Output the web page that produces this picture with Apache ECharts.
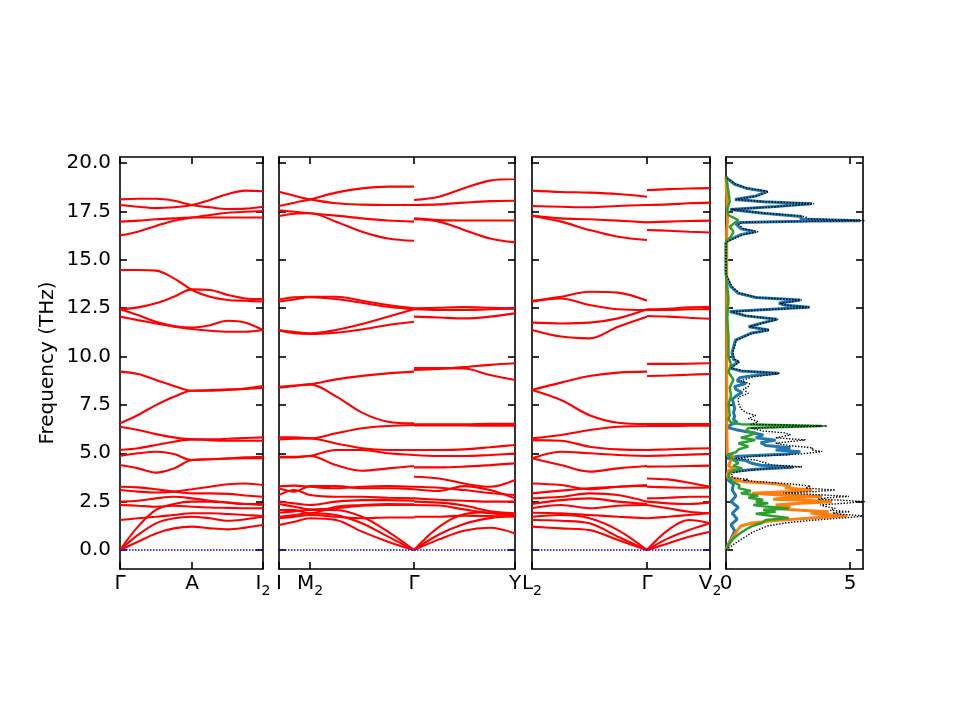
<!DOCTYPE html>
<html>
<head>
<meta charset="utf-8">
<script src="https://cdn.jsdelivr.net/npm/echarts@6.0.0/dist/echarts.min.js"></script>
<style>
  html, body { margin: 0; padding: 0; background: #fff; }
  #main { width: 960px; height: 720px; }
</style>
</head>
<body>
<div id="main"></div>
<script>
// ---- data ----
var yTicks = [0, 2.5, 5, 7.5, 10, 12.5, 15, 17.5, 20];
var freqMin = -0.98, freqMax = 20.31;

// panel 1: Γ - A - I2
var p1Kpts = [0, 0.72, 1.43];
var p1Labels = ['Γ', 'A', 'I_2'];
var p1X = [0, 0.18, 0.36, 0.54, 0.72, 0.90, 1.08, 1.255, 1.43];
var p1Bands = [
    [18.12, 18.15, 18.15, 18.05, 17.83, 17.71, 17.62, 17.64, 17.74],
    [17.83, 17.74, 17.67, 17.71, 17.83, 18.09, 18.40, 18.57, 18.54],
    [16.97, 17.02, 17.09, 17.14, 17.18, 17.18, 17.18, 17.18, 17.18],
    [16.26, 16.45, 16.75, 17.02, 17.18, 17.31, 17.43, 17.48, 17.52],
    [14.47, 14.47, 14.44, 14.04, 13.44, 13.09, 12.92, 12.88, 12.84],
    [12.44, 12.54, 12.75, 13.09, 13.47, 13.44, 13.18, 13.00, 12.97],
    [12.44, 12.14, 11.80, 11.58, 11.50, 11.62, 11.85, 11.75, 11.37],
    [12.06, 11.88, 11.71, 11.54, 11.42, 11.33, 11.28, 11.28, 11.37],
    [9.22, 9.10, 8.79, 8.48, 8.23, 8.27, 8.30, 8.33, 8.39],
    [6.55, 6.98, 7.49, 7.92, 8.23, 8.23, 8.27, 8.35, 8.47],
    [6.37, 6.20, 5.99, 5.82, 5.72, 5.72, 5.75, 5.79, 5.82],
    [5.17, 5.26, 5.43, 5.60, 5.72, 5.68, 5.65, 5.65, 5.65],
    [4.86, 5.00, 5.08, 4.96, 4.65, 4.69, 4.74, 4.79, 4.82],
    [4.39, 4.22, 4.00, 4.22, 4.65, 4.69, 4.72, 4.74, 4.74],
    [3.27, 3.24, 3.14, 3.02, 2.93, 2.93, 2.90, 2.82, 2.75],
    [3.10, 3.02, 2.97, 3.02, 3.14, 3.27, 3.40, 3.44, 3.36],
    [2.50, 2.55, 2.67, 2.75, 2.67, 2.55, 2.45, 2.38, 2.38],
    [2.33, 2.29, 2.24, 2.29, 2.24, 2.20, 2.18, 2.16, 2.16],
    [1.55, 1.64, 1.72, 1.81, 1.90, 1.90, 1.86, 1.81, 1.76],
    [0, 1.21, 2.07, 2.38, 2.50, 2.50, 2.45, 2.38, 2.33],
    [0, 0.78, 1.38, 1.64, 1.72, 1.64, 1.51, 1.59, 1.72],
    [0, 0.43, 0.86, 1.12, 1.21, 1.12, 1.07, 1.16, 1.29]
];

// panel 2: I - M2 - Γ | Γ - Y
var p2Kpts = [0, 0.31, 1.35, 2.36];
var p2Labels = ['I', 'M_2', 'Γ', 'Y'];
var p2aX = [0, 0.155, 0.31, 0.57, 0.83, 1.09, 1.35];
var p2aBands = [
    [18.52, 18.31, 18.12, 17.92, 17.85, 17.83, 17.83],
    [17.78, 17.95, 18.12, 18.47, 18.69, 18.78, 18.78],
    [17.55, 17.48, 17.40, 17.28, 17.14, 17.03, 16.97],
    [17.26, 17.38, 17.40, 16.97, 16.45, 16.10, 15.98],
    [12.95, 13.06, 13.09, 13.09, 12.88, 12.66, 12.49],
    [12.84, 12.95, 13.06, 12.97, 12.78, 12.57, 12.44],
    [11.37, 11.27, 11.20, 11.37, 11.68, 12.06, 12.44],
    [11.34, 11.20, 11.16, 11.23, 11.40, 11.63, 11.80],
    [8.44, 8.50, 8.56, 8.82, 9.00, 9.13, 9.22],
    [8.39, 8.48, 8.56, 7.94, 7.10, 6.63, 6.55],
    [5.82, 5.82, 5.77, 6.03, 6.29, 6.41, 6.46],
    [5.72, 5.75, 5.77, 5.51, 5.26, 5.17, 5.17],
    [4.82, 4.82, 4.86, 5.17, 5.17, 5.00, 4.91],
    [4.79, 4.79, 4.86, 4.39, 4.10, 4.22, 4.34],
    [3.30, 3.33, 3.27, 3.19, 3.27, 3.30, 3.27],
    [3.19, 3.02, 3.30, 3.30, 3.19, 3.19, 3.14],
    [2.84, 3.10, 2.84, 2.75, 2.75, 2.70, 2.67],
    [2.50, 2.41, 2.33, 2.50, 2.58, 2.58, 2.55],
    [2.38, 2.24, 2.10, 2.16, 2.29, 2.33, 2.33],
    [2.07, 2.07, 1.90, 2.24, 2.33, 2.38, 2.36],
    [1.64, 1.72, 1.81, 1.72, 1.64, 1.68, 1.68],
    [1.29, 1.46, 1.64, 1.55, 0.95, 0.43, 0],
    [1.72, 1.81, 1.90, 1.81, 1.38, 0.69, 0],
    [1.93, 2.00, 2.07, 2.07, 1.72, 0.95, 0]
];
var p2bX = [1.35, 1.60, 1.85, 2.11, 2.36];
var p2bBands = [
    [18.09, 18.26, 18.70, 19.09, 19.17],
    [17.83, 17.86, 17.95, 18.03, 18.05],
    [17.14, 17.05, 17.03, 17.03, 17.03],
    [17.09, 16.97, 16.54, 16.10, 15.90],
    [12.49, 12.52, 12.55, 12.52, 12.49],
    [12.44, 12.40, 12.40, 12.44, 12.47],
    [12.06, 12.02, 11.97, 12.06, 12.23],
    [9.30, 9.36, 9.45, 9.57, 9.65],
    [9.40, 9.40, 9.38, 9.05, 8.79],
    [6.50, 6.50, 6.50, 6.52, 6.52],
    [6.44, 6.44, 6.44, 6.42, 6.42],
    [5.17, 5.17, 5.20, 5.31, 5.43],
    [4.91, 4.86, 4.86, 4.91, 4.98],
    [4.27, 4.27, 4.31, 4.39, 4.48],
    [3.79, 3.70, 3.44, 3.27, 3.62],
    [3.27, 3.22, 3.10, 2.95, 2.84],
    [3.14, 3.05, 3.30, 3.10, 2.67],
    [2.67, 2.60, 2.55, 2.50, 2.50],
    [2.50, 2.45, 2.30, 2.00, 1.90],
    [2.33, 2.30, 2.10, 1.90, 1.81],
    [1.72, 1.72, 1.78, 1.75, 1.72],
    [0, 1.20, 1.85, 1.95, 1.85],
    [0, 0.80, 1.35, 1.65, 1.78],
    [0, 0.55, 1.00, 1.15, 0.86]
];

// panel 3: L2 - Γ | Γ - V2
var p3Kpts = [0, 1.15, 1.78];
var p3Labels = ['L_2', 'Γ', 'V_2'];
var p3aX = [0, 0.29, 0.575, 0.86, 1.15];
var p3aBands = [
    [18.57, 18.50, 18.47, 18.40, 18.26],
    [17.78, 17.74, 17.71, 17.78, 17.83],
    [17.29, 17.14, 17.09, 17.02, 16.93],
    [17.26, 16.97, 16.54, 16.19, 16.02],
    [12.88, 13.09, 13.35, 13.30, 12.88],
    [12.83, 13.00, 12.66, 12.44, 12.40],
    [11.75, 11.71, 11.75, 11.97, 12.44],
    [11.37, 11.03, 10.94, 11.54, 12.06],
    [8.27, 8.65, 8.99, 9.17, 9.22],
    [8.27, 7.75, 6.97, 6.58, 6.51],
    [5.77, 5.94, 6.20, 6.37, 6.41],
    [5.68, 5.65, 5.34, 5.20, 5.17],
    [4.74, 5.08, 5.00, 4.91, 4.86],
    [4.74, 4.39, 4.05, 4.22, 4.34],
    [3.44, 3.36, 3.14, 3.27, 3.31],
    [2.93, 3.07, 3.19, 3.27, 3.36],
    [2.67, 2.75, 2.93, 2.84, 2.50],
    [2.38, 2.58, 2.67, 2.50, 2.38],
    [2.16, 2.33, 2.16, 2.29, 2.33],
    [1.93, 1.90, 1.81, 1.72, 1.64],
    [1.72, 1.81, 1.64, 1.03, 0],
    [1.55, 1.51, 1.38, 0.69, 0],
    [1.21, 1.12, 1.03, 0.52, 0]
];
var p3bX = [1.15, 1.36, 1.57, 1.78];
var p3bBands = [
    [18.60, 18.65, 18.68, 18.70],
    [17.83, 17.86, 17.92, 17.95],
    [16.93, 16.97, 17.00, 17.02],
    [16.54, 16.50, 16.45, 16.41],
    [12.44, 12.47, 12.54, 12.57],
    [12.40, 12.40, 12.44, 12.44],
    [12.09, 12.06, 12.00, 11.95],
    [9.62, 9.62, 9.63, 9.65],
    [8.99, 9.02, 9.06, 9.10],
    [6.51, 6.51, 6.51, 6.51],
    [6.41, 6.41, 6.42, 6.42],
    [5.17, 5.20, 5.24, 5.26],
    [4.86, 4.89, 4.93, 4.96],
    [4.31, 4.32, 4.34, 4.36],
    [3.70, 3.65, 3.48, 3.27],
    [3.27, 3.24, 3.22, 3.24],
    [2.67, 2.70, 2.75, 2.75],
    [2.50, 2.41, 2.38, 2.45],
    [2.33, 2.16, 1.98, 1.90],
    [1.64, 1.72, 1.81, 1.90],
    [0, 1.03, 1.55, 1.38],
    [0, 0.60, 1.03, 1.38],
    [0, 0.34, 0.69, 0.95]
];

// DOS panel: [frequency, dos]
var dosTicks = [0, 5];
var dosMax = 5.52;
var dosBlue = [
    [0,0],[0.3,0.1],[0.7,0.25],[1.0,0.35],[1.3,0.2],[1.6,0.45],[1.9,0.25],[2.2,0.5],[2.5,0.2],[2.8,0.4],
    [3.1,0.25],[3.4,0.3],[3.6,0.1],[3.9,0.05],[4.05,0.15],[4.18,1.2],[4.28,2.7],[4.38,1.4],[4.5,1.0],[4.62,0.8],
    [4.74,0.05],[4.85,0.5],[4.96,2.5],[5.08,3.0],[5.17,2.0],[5.28,2.6],[5.4,1.6],[5.55,1.4],[5.68,2.0],[5.8,1.2],
    [5.95,1.5],[6.1,0.9],[6.22,0.4],[6.32,0.1],[6.45,0.15],[6.6,0.45],[6.75,0.3],[6.9,0.35],[7.1,0.3],[7.3,0.35],
    [7.6,0.3],[7.8,0.25],[8.0,0.45],[8.14,0.65],[8.3,0.4],[8.45,0.35],[8.6,0.8],[8.75,0.45],[8.9,0.55],[9.0,1.0],
    [9.13,2.1],[9.25,0.6],[9.4,0.17],[9.55,0.3],[9.73,0.5],[9.85,0.3],[10.2,0.24],[10.85,0.38],[11.2,1.0],[11.37,1.72],
    [11.54,0.91],[11.75,1.5],[11.92,2.06],[12.1,0.8],[12.32,0.15],[12.45,2.0],[12.54,3.36],[12.65,2.4],[12.75,2.13],[12.92,3.0],
    [13.05,1.2],[13.27,0.5],[13.6,0.2],[14.12,0.02],[14.3,0],[15.9,0],[16.0,0.1],[16.3,0.6],[16.45,1.17],[16.6,0.6],
    [16.85,0.4],[16.93,0.56],[17.0,3.5],[17.02,5.4],[17.1,3.0],[17.23,3.05],[17.4,1.5],[17.6,0.16],[17.75,2.0],[17.9,3.45],
    [18.0,1.5],[18.12,0.36],[18.3,1.2],[18.52,1.64],[18.7,0.8],[18.9,0.35],[19.2,0.05],[19.3,0]
];
var dosOrange = [
    [0,0],[0.3,0.1],[0.6,0.25],[0.9,0.4],[1.1,0.5],[1.24,0.6],[1.4,1.05],[1.52,2.0],[1.62,3.0],[1.72,4.2],
    [1.77,4.88],[1.85,3.8],[1.92,3.4],[1.98,4.14],[2.05,3.0],[2.15,2.0],[2.25,2.6],[2.33,2.0],[2.42,3.0],[2.5,4.27],
    [2.58,3.0],[2.63,1.9],[2.7,2.5],[2.77,3.87],[2.85,2.2],[2.94,1.05],[3.02,2.6],[3.1,3.47],[3.2,2.4],[3.3,2.6],
    [3.42,2.0],[3.53,0.8],[3.6,0.3],[3.65,0.6],[3.72,0.1],[3.9,0.05],[4.1,0.1],[4.22,0.35],[4.35,0.1],[4.5,0.15],
    [4.65,0.2],[4.83,0.3],[4.95,0.05],[6.5,0.03],[16.5,0.03],[17.0,0.06],[18.0,0.04],[19.3,0]
];
var dosGreen = [
    [0,0],[0.3,0.12],[0.6,0.3],[0.9,0.6],[1.1,0.85],[1.24,1.05],[1.4,1.45],[1.55,1.6],[1.66,2.53],[1.77,1.8],
    [1.88,1.2],[1.98,2.0],[2.08,1.5],[2.15,2.53],[2.25,1.6],[2.33,1.1],[2.42,1.7],[2.5,1.2],[2.6,1.5],[2.7,0.9],
    [2.8,1.3],[2.94,0.6],[3.05,1.0],[3.2,0.5],[3.35,0.55],[3.5,0.3],[3.65,0.2],[3.8,0.1],[4.0,0.15],[4.15,0.4],
    [4.22,0.65],[4.35,0.3],[4.5,0.5],[4.65,0.3],[4.8,0.2],[4.92,0.05],[5.05,0.4],[5.2,0.5],[5.35,0.9],[5.52,0.5],
    [5.69,1.18],[5.8,0.6],[5.9,0.9],[6.05,1.2],[6.15,0.8],[6.3,0.9],[6.41,3.87],[6.5,0.6],[6.6,0.2],[6.75,0.1],
    [7.0,0.15],[7.5,0.1],[8.0,0.2],[8.4,0.15],[8.8,0.3],[9.2,0.1],[9.6,0.2],[10.0,0.1],[11.0,0.1],[12.0,0.05],
    [13.0,0.1],[14.2,0],[15.9,0],[16.2,0.2],[16.45,0.3],[16.7,0.15],[17.05,0.5],[17.3,0.1],[17.6,0.05],[18.0,0.15],
    [18.5,0.1],[19.2,0.02],[19.3,0]
];
var dosTotal = [
    [0,0],[0.2,0.2],[0.5,0.55],[0.9,1.05],[1.1,1.4],[1.24,1.65],[1.4,2.4],[1.52,3.3],[1.62,4.3],[1.72,5.3],
    [1.77,5.5],[1.85,4.6],[1.92,4.3],[1.98,5.0],[2.05,4.2],[2.15,4.4],[2.25,4.0],[2.33,3.8],[2.42,4.8],[2.5,5.6],
    [2.58,4.6],[2.63,3.7],[2.7,4.1],[2.77,4.95],[2.85,3.9],[2.94,2.3],[3.02,3.6],[3.1,4.41],[3.2,3.2],[3.3,3.4],
    [3.42,2.6],[3.53,1.3],[3.6,0.7],[3.65,0.9],[3.72,0.3],[3.85,0.2],[4.0,0.3],[4.12,0.9],[4.22,1.8],[4.3,3.06],
    [4.4,1.8],[4.5,1.6],[4.57,1.4],[4.65,1.2],[4.74,0.4],[4.85,1.2],[4.96,3.0],[5.09,3.87],[5.17,3.45],[5.28,3.5],
    [5.4,2.5],[5.52,2.0],[5.69,3.2],[5.8,2.0],[5.95,2.6],[6.05,2.4],[6.15,1.5],[6.3,1.0],[6.41,4.07],[6.5,1.0],
    [6.63,1.3],[6.8,0.9],[6.95,1.2],[7.1,0.8],[7.3,0.6],[7.6,0.5],[7.9,0.5],[8.1,0.9],[8.3,0.7],[8.45,0.9],
    [8.6,0.95],[8.75,0.6],[8.95,1.1],[9.13,2.18],[9.25,0.7],[9.4,0.22],[9.55,0.35],[9.73,0.55],[9.85,0.35],[10.2,0.28],
    [10.85,0.42],[11.2,1.05],[11.37,1.76],[11.54,0.95],[11.75,1.55],[11.92,2.1],[12.1,0.85],[12.32,0.2],[12.45,2.05],[12.54,3.4],
    [12.65,2.45],[12.75,2.18],[12.92,3.05],[13.05,1.25],[13.27,0.55],[13.6,0.25],[14.12,0.05],[14.3,0],[15.9,0],[16.0,0.15],
    [16.3,0.7],[16.45,1.3],[16.6,0.7],[16.85,0.5],[16.93,0.7],[17.0,4.0],[17.02,6.0],[17.1,3.3],[17.23,3.2],[17.4,1.6],
    [17.6,0.2],[17.75,2.1],[17.9,3.55],[18.0,1.6],[18.12,0.4],[18.3,1.3],[18.52,1.72],[18.7,0.85],[18.9,0.4],[19.2,0.06],
    [19.3,0]
];

// ---- chart ----
var chartDom = document.getElementById('main');
var myChart = echarts.init(chartDom);

var FONT = 'DejaVu Sans';
var rich = {
    n: {fontSize: 20, fontFamily: FONT, color: '#000', verticalAlign: 'bottom', padding: [0, 0, 4, 0]},
    s: {fontSize: 14, fontFamily: FONT, color: '#000', verticalAlign: 'bottom'}
};
var grids = [], xAxes = [], yAxes = [], series = [];

function richLabel(lab) {
    var parts = lab.split('_');
    return parts.length > 1 ? '{n|' + parts[0] + '}{s|' + parts[1] + '}' : '{n|' + lab + '}';
}

function axisLineStyle() {
    return {show: true, onZero: false, lineStyle: {color: '#000', width: 1.6}};
}
function tickStyle(vals) {
    return {show: true, inside: true, length: 7, customValues: vals, lineStyle: {color: '#000', width: 1.6}};
}

function addPanel(left, width, xMax, xTicks, xFormatter, withYLabels) {
    var g = grids.length;
    grids.push({left: left, top: 157, width: width, height: 412, containLabel: false, outerBoundsMode: 'none'});
    xAxes.push({
        gridIndex: g, type: 'value', position: 'bottom', min: 0, max: xMax,
        axisLine: axisLineStyle(), axisTick: tickStyle(xTicks), splitLine: {show: false},
        axisLabel: {show: true, customValues: xTicks, formatter: xFormatter, margin: 5,
            color: '#000', fontSize: 20, fontFamily: FONT, rich: rich}
    });
    xAxes.push({
        gridIndex: g, type: 'value', position: 'top', min: 0, max: xMax,
        axisLine: axisLineStyle(), axisTick: tickStyle(xTicks), splitLine: {show: false},
        axisLabel: {show: false}
    });
    var yLeft = {
        gridIndex: g, type: 'value', position: 'left', min: freqMin, max: freqMax,
        axisLine: axisLineStyle(), axisTick: tickStyle(yTicks), splitLine: {show: false},
        axisLabel: {show: withYLabels, customValues: yTicks, margin: 9, color: '#000', fontSize: 20, fontFamily: FONT,
            formatter: function (v) { return v.toFixed(1); }}
    };
    if (withYLabels) {
        yLeft.name = 'Frequency (THz)';
        yLeft.nameLocation = 'middle';
        yLeft.nameGap = 62;
        yLeft.nameTextStyle = {color: '#000', fontSize: 20, fontFamily: FONT};
    }
    yAxes.push(yLeft);
    yAxes.push({
        gridIndex: g, type: 'value', position: 'right', min: freqMin, max: freqMax,
        axisLine: axisLineStyle(), axisTick: tickStyle(yTicks), splitLine: {show: false},
        axisLabel: {show: false}
    });
    return {x: xAxes.length - 2, y: yAxes.length - 2};
}

function kptFormatter(kpts, labels) {
    return function (v) {
        for (var i = 0; i < kpts.length; i++) {
            if (Math.abs(kpts[i] - v) < 1e-6) return richLabel(labels[i]);
        }
        return '';
    };
}

function addBands(ax, xs, bands) {
    bands.forEach(function (b) {
        series.push({
            type: 'line', xAxisIndex: ax.x, yAxisIndex: ax.y, silent: true,
            data: b.map(function (v, i) { return [xs[i], v]; }),
            smooth: 0.35, symbol: 'none', z: 2,
            lineStyle: {color: '#ff0000', width: 2.1}
        });
    });
}

function addZeroLine(ax, kpts) {
    series.push({
        type: 'line', xAxisIndex: ax.x, yAxisIndex: ax.y, silent: true, symbol: 'none', z: 3,
        data: [[kpts[0], 0], [kpts[kpts.length - 1], 0]],
        lineStyle: {color: '#0000ff', width: 1.4, type: [1.5, 1.5]}
    });
}

var ax1 = addPanel(120, 143, p1Kpts[2], p1Kpts, kptFormatter(p1Kpts, p1Labels), true);
addBands(ax1, p1X, p1Bands);
addZeroLine(ax1, p1Kpts);

var ax2 = addPanel(279, 236, p2Kpts[3], p2Kpts, kptFormatter(p2Kpts, p2Labels), false);
addBands(ax2, p2aX, p2aBands);
addBands(ax2, p2bX, p2bBands);
addZeroLine(ax2, p2Kpts);

var ax3 = addPanel(532, 178, p3Kpts[2], p3Kpts, kptFormatter(p3Kpts, p3Labels), false);
addBands(ax3, p3aX, p3aBands);
addBands(ax3, p3bX, p3bBands);
addZeroLine(ax3, p3Kpts);

var ax4 = addPanel(726, 137, dosMax, dosTicks, function (v) { return '{n|' + v + '}'; }, false);

function addDos(data, color, width, type, z) {
    series.push({
        type: 'line', xAxisIndex: ax4.x, yAxisIndex: ax4.y, silent: true, symbol: 'none', z: z,
        data: data.map(function (p) { return [p[1], p[0]]; }),
        lineStyle: {color: color, width: width, type: type}
    });
}
addDos(dosBlue, '#1f77b4', 3, 'solid', 2);
addDos(dosOrange, '#ff7f0e', 3, 'solid', 3);
addDos(dosGreen, '#2ca02c', 2.5, 'solid', 4);
addDos(dosTotal, '#000000', 1.4, [1.4, 1.6], 5);

var option = {
    animation: false,
    backgroundColor: '#ffffff',
    grid: grids,
    xAxis: xAxes,
    yAxis: yAxes,
    series: series
};

option && myChart.setOption(option);
</script>
</body>
</html>
